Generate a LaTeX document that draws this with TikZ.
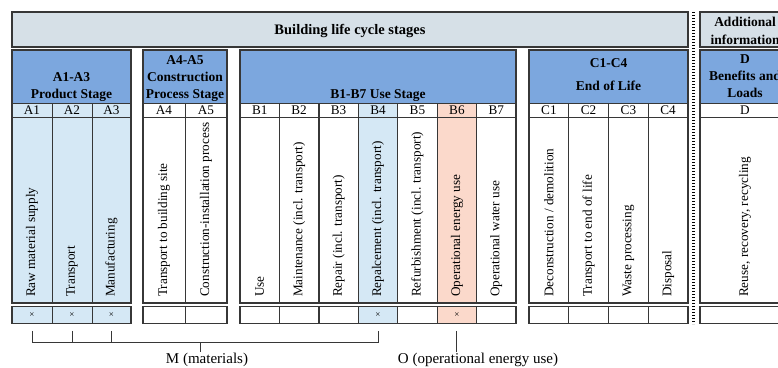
\documentclass[tikz,border=0pt]{standalone}
\usepackage{fontspec}
\setmainfont{Liberation Serif}
\usepackage{tikz}
\usepackage{xcolor}

\definecolor{linegray}{RGB}{55,55,55}
\definecolor{topgray}{RGB}{214,224,231}
\definecolor{headblue}{RGB}{124,167,222}
\definecolor{paleblue}{RGB}{213,232,245}
\definecolor{salmon}{RGB}{251,217,203}

\tikzset{
  cell/.style={draw=linegray, line width=0.8pt, inner sep=0pt},
  topbox/.style={cell, fill=topgray, minimum height=35pt},
  stagebox/.style={cell, fill=headblue, minimum height=53pt},
  stagetext/.style={align=center, inner sep=1pt, font=\fontsize{13.5}{17}\selectfont\bfseries},
  frame/.style={draw=linegray, line width=1.6pt},
  dotline/.style={line width=2.6pt, dash pattern=on 1.4pt off 1.6pt},
  bracket/.style={draw=linegray, line width=1pt},
  indicator/.style={inner sep=1pt, font=\fontsize{15}{16}\selectfont}
}

\begin{document}
\begin{tikzpicture}[x=1pt, y=-1pt, font=\fontsize{13.2}{15}\selectfont]
\useasboundingbox (0,0) rectangle (778,367);
\clip (0,0) rectangle (778,367);

% Top row
\node[topbox, minimum width=676pt] (lcs) at (350,29.5) {};
\node[font=\fontsize{14.5}{16}\selectfont\bfseries] (lcs-t) at (350,30.5) {Building life cycle stages};
\node[topbox, minimum width=90pt] (addinfo) at (745,29.5) {};
\node[stagetext, font=\fontsize{13.5}{18}\selectfont\bfseries] (addinfo-t) at (745,31) {Additional\\information};

% Stage headers
\node[stagebox, minimum width=119pt] (A13) at (71.5,76.5) {};
\node[stagebox, minimum width=84pt] (A45) at (185,76.5) {};
\node[stagebox, minimum width=276pt] (B17) at (378,76.5) {};
\node[stagebox, minimum width=159pt] (C14) at (608.5,76.5) {};
\node[stagebox, minimum width=90pt] (Dh) at (745,76.5) {};

\node[stagetext, anchor=south] (A13-t) at ([yshift=1pt]A13.south) {A1-A3\\Product Stage};
\node[stagetext, anchor=south] (A45-t) at ([yshift=1pt]A45.south) {A4-A5\\Construction\\Process Stage};
\node[stagetext, anchor=south] (B17-t) at ([yshift=1pt]B17.south) {B1-B7 Use Stage};
\node[stagetext] (C14-t) at ([yshift=2pt]C14.center) {C1-C4\\[6pt]End of Life};
\node[stagetext] (Dh-t) at (Dh.center) {D\\Benefits and\\Loads};

% Modules: code, description, marker
\foreach \n/\x/\w/\f/\c/\t in {
    A1/32/40/paleblue/×/Raw material supply,
    A2/72/40/paleblue/×/Transport,
    A3/111.5/39/paleblue/×/Manufacturing,
    A4/164/42/white//Transport to building site,
    A5/206/42/white//Construction-installation process,
    B1/259.7/39.4/white//Use,
    B2/299.1/39.4/white//Maintenance (incl. transport),
    B3/338.6/39.4/white//Repair (incl. transport),
    B4/378/39.4/paleblue/×/Repalcement (incl. transport),
    B5/417.4/39.4/white//Refurbishment (incl. transport),
    B6/456.9/39.4/salmon/×/Operational energy use,
    B7/496.3/39.4/white//Operational water use,
    C1/548.9/39.8/white//{Deconstruction / demolition},
    C2/588.6/39.8/white//Transport to end of life,
    C3/628.4/39.8/white//Waste processing,
    C4/668.1/39.8/white//Disposal,
    D/745/90/white//{Reuse, recovery, recycling}} {
  \node[cell, fill=\f, minimum width=\w pt, minimum height=14pt] (\n) at (\x,110) {\n};
  \node[cell, fill=\f, minimum width=\w pt, minimum height=186pt] (\n-b) at (\x,210) {};
  \node[rotate=90, anchor=west, inner sep=0pt] (\n-t) at (\x,297) {\t};
  \node[cell, fill=\f, minimum width=\w pt, minimum height=17pt, font=\fontsize{9}{10}\selectfont] (\n-x) at (\x,315) {\c};
}

% Group frames
\foreach \l/\r in {12/131, 143/227, 240/516, 529/688, 700/790} {
  \draw[frame] (\l,50) rectangle (\r,303);
  \draw[frame] (\l,306.5) rectangle (\r,323.5);
}
\draw[frame] (12,12) rectangle (688,47);
\draw[frame] (700,12) rectangle (790,47);

% Separator
\draw[dotline] (693.5,12) -- (693.5,324);

% Indicators
\node[indicator] (mlab) at (207,360) {M (materials)};
\node[indicator] (olab) at (478,360) {O (operational energy use)};
\coordinate (mC) at (200,342);

\draw[bracket] ([yshift=-7pt]A1-x.south) -- (A1-x.south |- mC) -| ([yshift=-7pt]B4-x.south);
\draw[bracket] ([yshift=-7pt]A2-x.south) -- (A2-x.south |- mC);
\draw[bracket] ([yshift=-7pt]A3-x.south) -- (A3-x.south |- mC);
\draw[bracket] (mC) -- (mC |- mlab.north);
\draw[bracket] ([yshift=-7pt]B6-x.south) -- (B6-x.south |- olab.north);
\end{tikzpicture}
\end{document}
